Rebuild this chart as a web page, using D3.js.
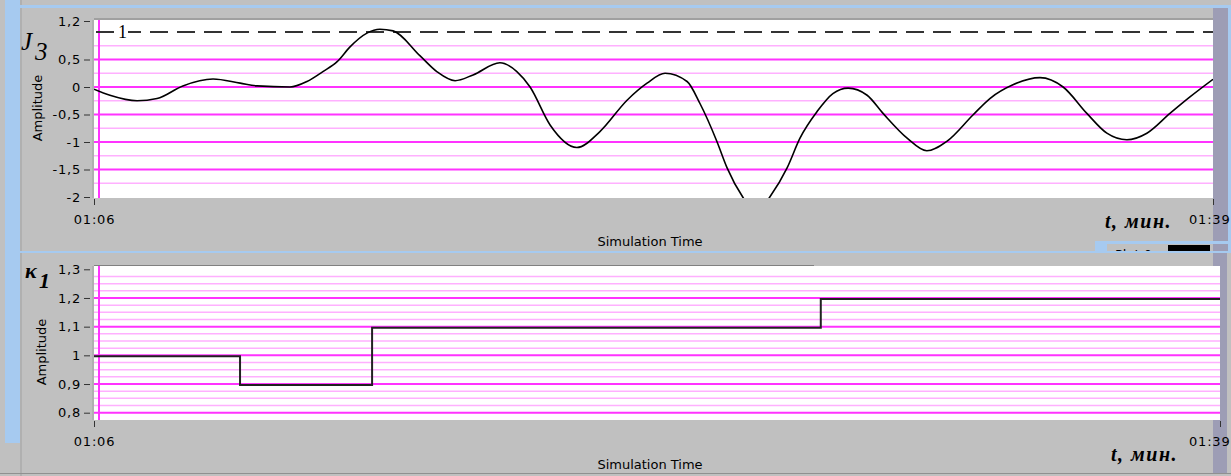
<!DOCTYPE html>
<html>
<head>
<meta charset="utf-8">
<script src="https://cdn.jsdelivr.net/npm/d3@7"></script>
<style>
  html, body { margin: 0; padding: 0; background: #c0c0c0; }
  svg { display: block; }
  .tick text { font-family: "DejaVu Sans", sans-serif; font-size: 13px; letter-spacing: 0.8px; fill: #000; }
  .tick line { stroke: #333; }
  .lbl { font-family: "DejaVu Sans", sans-serif; font-size: 13px; fill: #000; }
  .serif { font-family: "Liberation Serif", "DejaVu Serif", serif; fill: #000; }
</style>
</head>
<body>
<div id="chart"></div>
<script>
// ---- data (time in minutes, 66 = 01:06) ----
const timeTicks = [66, 99];

const j3Times = [66.00, 66.47, 67.27, 67.86, 68.62, 69.51, 70.31, 70.81, 71.78, 72.28,
  72.75, 73.17, 73.55, 74.05, 74.43, 74.82, 75.61, 76.11, 76.65, 77.18,
  77.97, 78.47, 78.86, 79.45, 80.24, 80.92, 81.72, 82.31, 82.84, 83.49,
  83.87, 84.37, 84.67, 85.14, 85.52, 85.93, 86.44, 86.82, 87.32, 87.79,
  88.24, 88.80, 89.27, 89.98, 90.56, 91.15, 91.92, 92.42, 93.10, 93.90,
  94.58, 95.28, 95.87, 96.46, 97.05, 97.73, 98.32, 99.00];
const j3Values = [-0.04, -0.15, -0.25, -0.21, 0.02, 0.145, 0.07, 0.02, 0.0, 0.1,
  0.28, 0.46, 0.73, 0.98, 1.05, 1.02, 0.57, 0.28, 0.115, 0.22,
  0.44, 0.28, 0.0, -0.69, -1.1, -0.81, -0.24, 0.07, 0.25, 0.1,
  -0.3, -0.99, -1.47, -2.01, -2.3, -2.0, -1.47, -0.93, -0.45, -0.12,
  -0.02, -0.15, -0.48, -0.93, -1.16, -0.99, -0.51, -0.21, 0.04, 0.17,
  0.0, -0.48, -0.84, -0.96, -0.84, -0.48, -0.18, 0.14];
const j3Ref = 1;

const k1Times = [66, 70.28, 74.15, 87.30, 99];
const k1Values = [1, 0.9, 1.1, 1.2, 1.2];

const topYTicks = [1.2, 0.5, 0, -0.5, -1, -1.5, -2];
const topMajorGrid = [-1.5, -1, -0.5, 0, 0.5];
const topMinorGrid = [-1.75, -1.25, -0.75, -0.25, 0.25, 0.75];
const botYTicks = [1.3, 1.2, 1.1, 1, 0.9, 0.8];
const botMajorGrid = [0.8, 0.9, 1.0, 1.1, 1.2];
const botMinorGrid = d3.range(0, 20).map(i => 0.825 + i * 0.025)
  .filter(v => Math.abs(v * 10 - Math.round(v * 10)) > 0.01);

// ---- setup ----
const W = 1231, H = 476;
const svg = d3.select('#chart').append('svg').attr('width', W).attr('height', H);
const locale = d3.formatLocale({decimal: ',', thousands: ' ', grouping: [3], currency: ['', ''], minus: '-'});
const numFmt = v => locale.format('~g')(v);
const timeFmt = t => d3.format('02d')(Math.floor(t / 60)) + ':' + d3.format('02d')(t % 60);

// last time label sits against the window edge, so right-align it
const pinLastLabel = g => g.selectAll('.tick').filter((d, i, n) => i === n.length - 1)
  .select('text').attr('text-anchor', 'end').attr('x', d => W - 1 - g.node().__xs(d));

// window chrome
svg.append('rect').attr('width', W).attr('height', H).attr('fill', '#c0c0c0');
svg.append('rect').attr('x', 5).attr('y', 0).attr('width', 15).attr('height', H).attr('fill', '#a6caf0');
svg.append('rect').attr('x', 20).attr('y', 0).attr('width', 2).attr('height', H).attr('fill', '#b0b0b0');
svg.append('rect').attr('x', 20).attr('y', 5).attr('width', W - 20).attr('height', 3).attr('fill', '#a6caf0');

// ---- top panel ----
const topBox = {x0: 94, x1: 1213, y0: 20, y1: 198};
const xTop = d3.scaleLinear().domain([66, 99]).range([topBox.x0, topBox.x1]);
const yTop = d3.scaleLinear().domain([-2, 1.2]).range([197, 21]);

// right scroll strip
svg.append('rect').attr('x', 1213).attr('y', 8).attr('width', 15).attr('height', 244).attr('fill', '#9d9db5');
svg.append('rect').attr('x', 1228).attr('y', 8).attr('width', 3).attr('height', 244).attr('fill', '#a6caf0');

svg.append('rect').attr('x', topBox.x0).attr('y', topBox.y0 - 2).attr('width', topBox.x1 - topBox.x0).attr('height', 2).attr('fill', '#a0a0a0');
svg.append('rect').attr('x', topBox.x0).attr('y', topBox.y0).attr('width', topBox.x1 - topBox.x0).attr('height', topBox.y1 - topBox.y0).attr('fill', '#fff');

const gTop = svg.append('g');
gTop.selectAll('line.minor').data(topMinorGrid).enter().append('line')
  .attr('x1', topBox.x0).attr('x2', topBox.x1)
  .attr('y1', d => yTop(d)).attr('y2', d => yTop(d))
  .attr('stroke', '#ffb0ff').attr('stroke-width', 1.5);
gTop.selectAll('line.major').data(topMajorGrid).enter().append('line')
  .attr('x1', topBox.x0).attr('x2', topBox.x1)
  .attr('y1', d => yTop(d)).attr('y2', d => yTop(d))
  .attr('stroke', '#ff33ff').attr('stroke-width', 2);
gTop.append('line').attr('x1', topBox.x0 + 5).attr('x2', topBox.x0 + 5)
  .attr('y1', topBox.y0).attr('y2', topBox.y1).attr('stroke', '#ff33ff').attr('stroke-width', 2);

// dashed reference at 1
gTop.append('line').attr('x1', topBox.x0 + 2).attr('x2', topBox.x1)
  .attr('y1', yTop(j3Ref)).attr('y2', yTop(j3Ref))
  .attr('stroke', '#333').attr('stroke-width', 2).attr('stroke-dasharray', '18,9');
gTop.append('rect').attr('x', 116).attr('y', yTop(j3Ref) - 8).attr('width', 12).attr('height', 16).attr('fill', '#fff');
gTop.append('text').attr('class', 'serif').attr('x', 118).attr('y', yTop(j3Ref) + 6)
  .attr('font-size', 18).text(numFmt(j3Ref));

svg.append('clipPath').attr('id', 'clipTop').append('rect')
  .attr('x', topBox.x0).attr('y', topBox.y0).attr('width', topBox.x1 - topBox.x0).attr('height', topBox.y1 - topBox.y0);

const j3 = j3Times.map((t, i) => ({t, v: j3Values[i]}));
gTop.append('path').datum(j3)
  .attr('clip-path', 'url(#clipTop)')
  .attr('fill', 'none').attr('stroke', '#000').attr('stroke-width', 1.6)
  .attr('d', d3.line().x(d => xTop(d.t)).y(d => yTop(d.v)).curve(d3.curveMonotoneX));

// axes
svg.append('g').attr('transform', `translate(${topBox.x0 - 4},0)`)
  .call(d3.axisLeft(yTop).tickValues(topYTicks).tickFormat(numFmt).tickSize(6).tickPadding(3))
  .call(g => g.select('.domain').remove());
svg.append('line').attr('x1', topBox.x0 - 1).attr('x2', topBox.x0 - 1).attr('y1', topBox.y0).attr('y2', topBox.y1)
  .attr('stroke', '#a0a0a0');
const xAxisTop = svg.append('g').attr('transform', `translate(0,${topBox.y1 + 1})`)
  .call(d3.axisBottom(xTop).tickValues(timeTicks).tickFormat(timeFmt).tickSize(6).tickPadding(10))
  .call(g => g.select('.domain').remove());
xAxisTop.node().__xs = xTop;
xAxisTop.call(pinLastLabel);

svg.append('text').attr('class', 'lbl').attr('text-anchor', 'middle')
  .attr('transform', 'translate(42,108) rotate(-90)').text('Amplitude');
svg.append('text').attr('class', 'lbl').attr('text-anchor', 'middle')
  .attr('x', 650).attr('y', 246).text('Simulation Time');

const j3Label = svg.append('text').attr('class', 'serif').attr('font-style', 'italic').attr('font-size', 25);
j3Label.append('tspan').attr('x', 21).attr('y', 50).text('J');
j3Label.append('tspan').attr('x', 35).attr('y', 60).text('3');

svg.append('text').attr('class', 'serif').attr('font-style', 'italic').attr('font-weight', 'bold')
  .attr('font-size', 20).attr('letter-spacing', 1.5).attr('x', 1105).attr('y', 228).text('t, мин.');

// legend peeking above the lower panel
svg.append('rect').attr('x', 1095).attr('y', 241).attr('width', 136).attr('height', 3).attr('fill', '#a6caf0');
svg.append('rect').attr('x', 1095).attr('y', 241).attr('width', 12).attr('height', 12).attr('fill', '#a6caf0');
svg.append('text').attr('class', 'lbl').attr('x', 1115).attr('y', 259).text('Plot 0');
svg.append('rect').attr('x', 1168).attr('y', 245).attr('width', 42).attr('height', 8).attr('fill', '#000');

// ---- bottom panel ----
const botBox = {x0: 94, x1: 1220, y0: 266, y1: 420};
const xBot = d3.scaleLinear().domain([66, 99]).range([botBox.x0, botBox.x1]);
const yBot = d3.scaleLinear().domain([0.8, 1.3]).range([412.7, 269.3]);

svg.append('rect').attr('x', 0).attr('y', 253).attr('width', W).attr('height', H - 253).attr('fill', '#c0c0c0');
svg.append('rect').attr('x', 5).attr('y', 253).attr('width', 15).attr('height', 190).attr('fill', '#a6caf0');
svg.append('rect').attr('x', 20).attr('y', 253).attr('width', 2).attr('height', H - 253).attr('fill', '#b0b0b0');
svg.append('rect').attr('x', 13).attr('y', 251).attr('width', W - 13).attr('height', 2).attr('fill', '#a6caf0');
svg.append('rect').attr('x', 1213).attr('y', 253).attr('width', 14).attr('height', H - 256).attr('fill', '#9d9db5');
svg.append('rect').attr('x', 0).attr('y', H - 3).attr('width', W).attr('height', 1).attr('fill', '#909090');

svg.append('rect').attr('x', botBox.x0).attr('y', botBox.y0 - 1).attr('width', 720).attr('height', 1).attr('fill', '#808080');
svg.append('rect').attr('x', botBox.x0).attr('y', botBox.y0).attr('width', botBox.x1 - botBox.x0).attr('height', botBox.y1 - botBox.y0).attr('fill', '#fff');

const gBot = svg.append('g');
gBot.selectAll('line.minor').data(botMinorGrid).enter().append('line')
  .attr('x1', botBox.x0).attr('x2', botBox.x1)
  .attr('y1', d => yBot(d)).attr('y2', d => yBot(d))
  .attr('stroke', '#ffb0ff').attr('stroke-width', 1.5);
gBot.selectAll('line.major').data(botMajorGrid).enter().append('line')
  .attr('x1', botBox.x0).attr('x2', botBox.x1)
  .attr('y1', d => yBot(d)).attr('y2', d => yBot(d))
  .attr('stroke', '#ff33ff').attr('stroke-width', 2);
gBot.append('line').attr('x1', botBox.x0 + 5).attr('x2', botBox.x0 + 5)
  .attr('y1', botBox.y0).attr('y2', botBox.y1).attr('stroke', '#ff33ff').attr('stroke-width', 2);

const k1 = k1Times.map((t, i) => ({t, v: k1Values[i]}));
gBot.append('path').datum(k1)
  .attr('fill', 'none').attr('stroke', '#222').attr('stroke-width', 2)
  .attr('transform', 'translate(0,1)')
  .attr('d', d3.line().x(d => xBot(d.t)).y(d => yBot(d.v)).curve(d3.curveStepAfter));

svg.append('g').attr('transform', `translate(${botBox.x0 - 4},0)`)
  .call(d3.axisLeft(yBot).tickValues(botYTicks).tickFormat(numFmt).tickSize(6).tickPadding(3))
  .call(g => g.select('.domain').remove());
svg.append('line').attr('x1', botBox.x0 - 1).attr('x2', botBox.x0 - 1).attr('y1', botBox.y0).attr('y2', botBox.y1)
  .attr('stroke', '#a0a0a0');
const xAxisBot = svg.append('g').attr('transform', `translate(0,${botBox.y1 + 1})`)
  .call(d3.axisBottom(xBot).tickValues(timeTicks).tickFormat(timeFmt).tickSize(6).tickPadding(10))
  .call(g => g.select('.domain').remove());
xAxisBot.node().__xs = xBot;
xAxisBot.call(pinLastLabel);

svg.append('text').attr('class', 'lbl').attr('text-anchor', 'middle')
  .attr('transform', 'translate(46,352) rotate(-90)').text('Amplitude');
svg.append('text').attr('class', 'lbl').attr('text-anchor', 'middle')
  .attr('x', 650).attr('y', 469).text('Simulation Time');

const k1Label = svg.append('text').attr('class', 'serif').attr('font-style', 'italic').attr('font-weight', 'bold').attr('font-size', 22);
k1Label.append('tspan').attr('x', 25).attr('y', 278).text('κ');
k1Label.append('tspan').attr('x', 39).attr('y', 288).text('1');

svg.append('text').attr('class', 'serif').attr('font-style', 'italic').attr('font-weight', 'bold')
  .attr('font-size', 20).attr('letter-spacing', 1.5).attr('x', 1111).attr('y', 461).text('t, мин.');
</script>
</body>
</html>
